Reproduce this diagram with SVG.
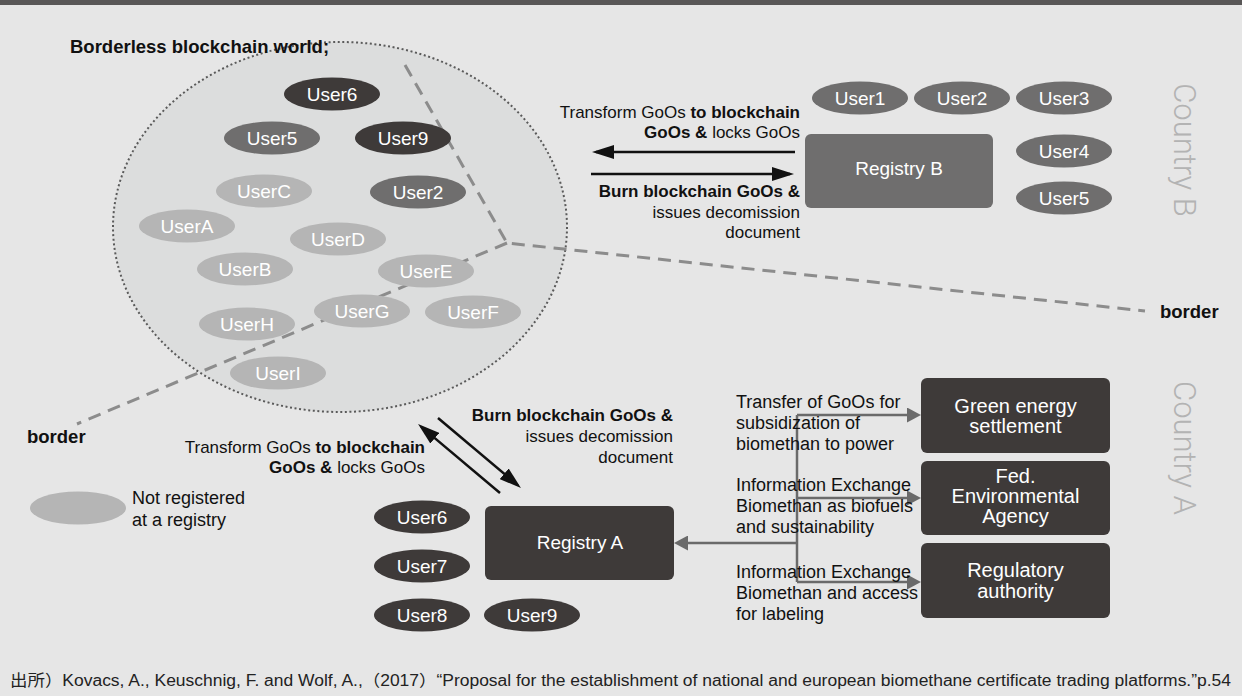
<svg xmlns="http://www.w3.org/2000/svg" width="1242" height="696" viewBox="0 0 1242 696">
  <style>
    text { font-family: "Liberation Sans", Arial, sans-serif; }
    .b { font-weight: bold; }
    .lbl { font-size: 17px; fill: #111; }
    .lbl2 { font-size: 18px; fill: #111; }
    .ulbl { font-size: 19px; fill: #fff; text-anchor: middle; }
    .blbl { font-size: 20px; fill: #fff; text-anchor: middle; }
    .dark { fill: #3e3a39; }
    .mid { fill: #6f6e6e; }
    .light { fill: #b5b5b5; }
    .country { font-family: Roboto, "Liberation Sans", sans-serif; font-weight: 300; font-size: 31px; fill: #b3b3b3; text-anchor: middle; }
    .border-line { fill: none; stroke: #8c8c8c; stroke-width: 3; stroke-dasharray: 13 8; }
    .flow { fill: none; stroke: #111; stroke-width: 2.5; }
    .link { fill: none; stroke: #6a6a6a; stroke-width: 2.5; }
  </style>
  <defs>
    <marker id="headBlack" markerUnits="userSpaceOnUse" markerWidth="22" markerHeight="14" refX="18" refY="7" orient="auto">
      <path d="M0,0 L22,7 L0,14 z" fill="#111"/>
    </marker>
    <marker id="headGray" markerUnits="userSpaceOnUse" markerWidth="14" markerHeight="15" refX="10" refY="7.5" orient="auto">
      <path d="M0,0 L14,7.5 L0,15 z" fill="#6a6a6a"/>
    </marker>
  </defs>

  <!-- page -->
  <rect x="0" y="0" width="1242" height="696" fill="#e6e6e6"/>
  <rect x="0" y="0" width="1242" height="5" fill="#595757"/>

  <!-- blockchain world -->
  <g id="blockchain-world">
    <ellipse cx="340" cy="227" rx="227" ry="185" fill="#dcdddd" stroke="#5a5a5a" stroke-width="2" stroke-dasharray="2 2.6"/>
    <text x="70" y="53" class="b" font-size="18.5" fill="#111">Borderless blockchain world;</text>
  </g>

  <!-- country borders -->
  <g id="borders">
    <path class="border-line" d="M405,65 L507,243 L1145,311"/>
    <path class="border-line" d="M507,243 L77,424"/>
    <text x="1160" y="318" class="b" font-size="18.5" fill="#111">border</text>
    <text x="27" y="443" class="b" font-size="18.5" fill="#111">border</text>
  </g>

  <!-- users inside the blockchain world -->
  <g id="world-users">
    <g id="w-user6"><ellipse class="dark" cx="332" cy="94" rx="48" ry="16.5"/><text class="ulbl" x="332" y="101">User6</text></g>
    <g id="w-user5"><ellipse class="mid" cx="272" cy="138" rx="48" ry="16.5"/><text class="ulbl" x="272" y="145">User5</text></g>
    <g id="w-user9"><ellipse class="dark" cx="403" cy="138" rx="48" ry="16.5"/><text class="ulbl" x="403" y="145">User9</text></g>
    <g id="w-userC"><ellipse class="light" cx="264" cy="191" rx="48" ry="16.5"/><text class="ulbl" x="264" y="198">UserC</text></g>
    <g id="w-user2"><ellipse class="mid" cx="418" cy="192" rx="48" ry="16.5"/><text class="ulbl" x="418" y="199">User2</text></g>
    <g id="w-userA"><ellipse class="light" cx="187" cy="226" rx="48" ry="16.5"/><text class="ulbl" x="187" y="233">UserA</text></g>
    <g id="w-userD"><ellipse class="light" cx="338" cy="239" rx="48" ry="16.5"/><text class="ulbl" x="338" y="246">UserD</text></g>
    <g id="w-userB"><ellipse class="light" cx="245" cy="269" rx="48" ry="16.5"/><text class="ulbl" x="245" y="276">UserB</text></g>
    <g id="w-userE"><ellipse class="light" cx="426" cy="271" rx="48" ry="16.5"/><text class="ulbl" x="426" y="278">UserE</text></g>
    <g id="w-userG"><ellipse class="light" cx="362" cy="311" rx="48" ry="16.5"/><text class="ulbl" x="362" y="318">UserG</text></g>
    <g id="w-userF"><ellipse class="light" cx="473" cy="312" rx="48" ry="16.5"/><text class="ulbl" x="473" y="319">UserF</text></g>
    <g id="w-userH"><ellipse class="light" cx="247" cy="324" rx="48" ry="16.5"/><text class="ulbl" x="247" y="331">UserH</text></g>
    <g id="w-userI"><ellipse class="light" cx="278" cy="373" rx="48" ry="16.5"/><text class="ulbl" x="278" y="380">UserI</text></g>
  </g>

  <!-- Country B -->
  <g id="registry-b"><rect class="mid" x="805" y="134" width="188" height="74" rx="6"/><text class="ulbl" x="899" y="175">Registry B</text></g>
  <g id="b-users">
    <g id="b-user1"><ellipse class="mid" cx="860" cy="98" rx="48" ry="16.5"/><text class="ulbl" x="860" y="105">User1</text></g>
    <g id="b-user2"><ellipse class="mid" cx="962" cy="98" rx="48" ry="16.5"/><text class="ulbl" x="962" y="105">User2</text></g>
    <g id="b-user3"><ellipse class="mid" cx="1064" cy="98" rx="48" ry="16.5"/><text class="ulbl" x="1064" y="105">User3</text></g>
    <g id="b-user4"><ellipse class="mid" cx="1064" cy="151" rx="48" ry="16.5"/><text class="ulbl" x="1064" y="158">User4</text></g>
    <g id="b-user5"><ellipse class="mid" cx="1064" cy="198" rx="48" ry="16.5"/><text class="ulbl" x="1064" y="205">User5</text></g>
  </g>
  <text class="country" transform="translate(1174,150) rotate(90)">Country B</text>

  <!-- Country A -->
  <g id="registry-a"><rect class="dark" x="485" y="506" width="189" height="74" rx="6"/><text class="ulbl" x="580" y="549">Registry A</text></g>
  <g id="a-users">
    <g id="a-user6"><ellipse class="dark" cx="422" cy="517" rx="48" ry="16.5"/><text class="ulbl" x="422" y="524">User6</text></g>
    <g id="a-user7"><ellipse class="dark" cx="422" cy="566" rx="48" ry="16.5"/><text class="ulbl" x="422" y="573">User7</text></g>
    <g id="a-user8"><ellipse class="dark" cx="422" cy="615" rx="48" ry="16.5"/><text class="ulbl" x="422" y="622">User8</text></g>
    <g id="a-user9"><ellipse class="dark" cx="532" cy="615" rx="48" ry="16.5"/><text class="ulbl" x="532" y="622">User9</text></g>
  </g>
  <g id="green-energy"><rect class="dark" x="921" y="378" width="189" height="75" rx="6"/>
    <text class="blbl" x="1015.5" y="413">Green energy</text><text class="blbl" x="1015.5" y="433">settlement</text></g>
  <g id="fed-env-agency"><rect class="dark" x="921" y="461" width="189" height="74" rx="6"/>
    <text class="blbl" x="1015.5" y="483">Fed.</text><text class="blbl" x="1015.5" y="503">Environmental</text><text class="blbl" x="1015.5" y="523">Agency</text></g>
  <g id="regulatory"><rect class="dark" x="921" y="543" width="189" height="75" rx="6"/>
    <text class="blbl" x="1015.5" y="577">Regulatory</text><text class="blbl" x="1015.5" y="598">authority</text></g>
  <text class="country" transform="translate(1174,448) rotate(90)">Country A</text>

  <!-- legend -->
  <g id="legend">
    <ellipse class="light" cx="78" cy="508" rx="48" ry="16.5"/>
    <text class="lbl2" x="132" y="504">Not registered</text>
    <text class="lbl2" x="132" y="526">at a registry</text>
  </g>

  <!-- connectors -->
  <g id="connectors">
    <path class="flow" d="M795,152 L596,152" marker-end="url(#headBlack)"/>
    <path class="flow" d="M591,174 L790,174" marker-end="url(#headBlack)"/>
    <path class="flow" d="M500,493 L421.1,426.6" marker-end="url(#headBlack)"/>
    <path class="flow" d="M438,418 L517.9,485.4" marker-end="url(#headBlack)"/>
    <path class="link" d="M797,415 L797,582"/>
    <path class="link" d="M797,415 L917,415" marker-end="url(#headGray)"/>
    <path class="link" d="M797,498 L917,498" marker-end="url(#headGray)"/>
    <path class="link" d="M797,582 L917,582" marker-end="url(#headGray)"/>
    <path class="link" d="M797,543 L678,543" marker-end="url(#headGray)"/>
  </g>

  <!-- connector labels -->
  <g id="labels-b" class="lbl" text-anchor="end">
    <text x="800" y="118">Transform GoOs <tspan class="b">to blockchain</tspan></text>
    <text x="800" y="138"><tspan class="b">GoOs &amp;</tspan> locks GoOs</text>
    <text x="800" y="197" class="b">Burn blockchain GoOs &amp;</text>
    <text x="800" y="218">issues decomission</text>
    <text x="800" y="238">document</text>
  </g>
  <g id="labels-a" class="lbl" text-anchor="end">
    <text x="425" y="453">Transform GoOs <tspan class="b">to blockchain</tspan></text>
    <text x="425" y="473"><tspan class="b">GoOs &amp;</tspan> locks GoOs</text>
    <text x="673" y="421" class="b">Burn blockchain GoOs &amp;</text>
    <text x="673" y="442">issues decomission</text>
    <text x="673" y="463">document</text>
  </g>
  <g id="labels-authorities" class="lbl2">
    <text x="736" y="408">Transfer of GoOs for</text>
    <text x="736" y="429">subsidization of</text>
    <text x="736" y="450">biomethan to power</text>
    <text x="736" y="491">Information Exchange</text>
    <text x="736" y="512">Biomethan as biofuels</text>
    <text x="736" y="533">and sustainability</text>
    <text x="736" y="578">Information Exchange</text>
    <text x="736" y="599">Biomethan and access</text>
    <text x="736" y="620">for labeling</text>
  </g>

  <!-- source note -->
  <text x="10" y="686" font-size="16" fill="#222" textLength="1221" lengthAdjust="spacingAndGlyphs" style="font-family: 'Liberation Sans', 'Noto Sans CJK JP', sans-serif;">出所）Kovacs, A., Keuschnig, F. and Wolf, A.,（2017）“Proposal for the establishment of national and european biomethane certificate trading platforms.”p.54</text>
</svg>
